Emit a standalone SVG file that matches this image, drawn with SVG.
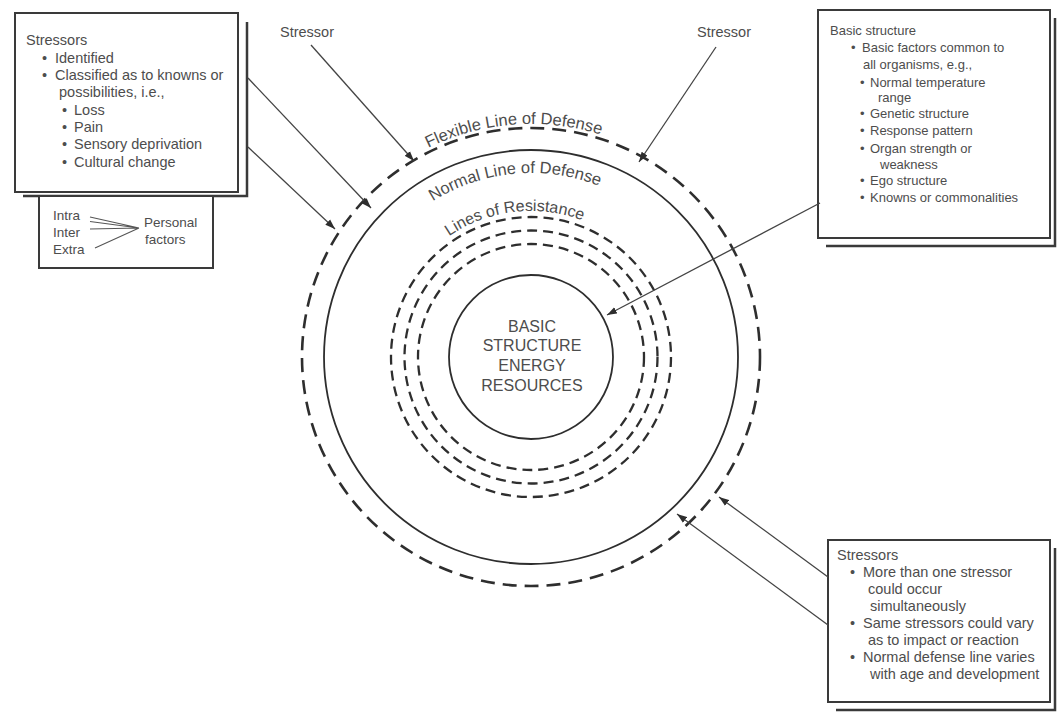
<svg xmlns="http://www.w3.org/2000/svg" width="1057" height="715" viewBox="0 0 1057 715">
<style>
.t{font-family:"Liberation Sans",Arial,sans-serif;fill:#4d4d4d;}
.box{fill:#fff;stroke:#3a3a3a;stroke-width:2;}
.sh{fill:none;stroke:#3a3a3a;stroke-width:2.5;}
.c{fill:none;stroke:#2e2e2e;}
.flex{stroke-width:2.6;stroke-dasharray:14 8;}
.res{stroke-width:2.3;stroke-dasharray:10 6;}
.sol{stroke-width:1.8;}
.arr{fill:none;stroke:#444;stroke-width:1.3;marker-end:url(#ah);}
.thin{fill:none;stroke:#555;stroke-width:1.1;}
.arc{font-size:16.5px;}
</style>
<defs>
<marker id="ah" markerWidth="11" markerHeight="8" refX="10" refY="4" orient="auto" markerUnits="userSpaceOnUse">
<path d="M0,0.5 L10,4 L0,7.5 Z" fill="#2e2e2e"/>
</marker>
<path id="pFlex" d="M298,357 A233,233 0 0 1 764,357"/>
<path id="pNorm" d="M347,357 A184,184 0 0 1 715,357"/>
<path id="pRes" d="M385,357 A146,146 0 0 1 677,357"/>
</defs>
<rect width="1057" height="715" fill="#fff"/>

<g id="circles">
<circle class="c flex" cx="531" cy="357" r="229"/>
<circle class="c sol" cx="531" cy="357" r="207"/>
<circle class="c res" cx="531" cy="357" r="140"/>
<circle class="c res" cx="531" cy="357" r="126.5"/>
<circle class="c res" cx="531" cy="357" r="113"/>
</g>

<g id="core">
<circle class="c sol" cx="531" cy="357" r="82"/>
<text class="t" font-size="16" text-anchor="middle"><tspan x="532" y="332">BASIC</tspan><tspan x="532" y="351">STRUCTURE</tspan><tspan x="532" y="371">ENERGY</tspan><tspan x="532" y="391">RESOURCES</tspan></text>
</g>

<g id="arc-labels">
<text class="t arc" text-anchor="middle"><textPath href="#pFlex" startOffset="348">Flexible Line of Defense</textPath></text>
<text class="t arc" text-anchor="middle"><textPath href="#pNorm" startOffset="272">Normal Line of Defense</textPath></text>
<text class="t" font-size="16" text-anchor="middle"><textPath href="#pRes" startOffset="212">Lines of Resistance</textPath></text>
</g>

<g id="stressor-left">
<text class="t" x="280" y="37" font-size="14.5">Stressor</text>
</g>
<g id="stressor-right">
<text class="t" x="697" y="37" font-size="14.5">Stressor</text>
</g>

<g id="box-stressors">
<polyline class="sh" points="247,22 247,196 23,196"/>
<rect class="box" x="15" y="13" width="223" height="179"/>
<text class="t" font-size="14.5">
<tspan x="26" y="45">Stressors</tspan>
<tspan x="42" y="63">•</tspan><tspan x="55" y="63">Identified</tspan>
<tspan x="42" y="80">•</tspan><tspan x="55" y="80">Classified as to knowns or</tspan>
<tspan x="59" y="97">possibilities, i.e.,</tspan>
<tspan x="62" y="115">•</tspan><tspan x="74" y="115">Loss</tspan>
<tspan x="62" y="132">•</tspan><tspan x="74" y="132">Pain</tspan>
<tspan x="62" y="149">•</tspan><tspan x="74" y="149">Sensory deprivation</tspan>
<tspan x="62" y="167">•</tspan><tspan x="74" y="167">Cultural change</tspan>
</text>
</g>

<g id="box-personal">
<rect class="box" x="39" y="196" width="174" height="72"/>
<text class="t" font-size="13.5">
<tspan x="53" y="220">Intra</tspan>
<tspan x="53" y="237">Inter</tspan>
<tspan x="53" y="254">Extra</tspan>
<tspan x="144" y="227">Personal</tspan>
<tspan x="145" y="244">factors</tspan>
</text>
<path class="thin" d="M90,217 L139,228 M90,221.5 L139,228 M90,229 L139,228 M95,248 L139,228"/>
</g>

<g id="box-basic">
<polyline class="sh" points="1055,18 1055,246 826,246"/>
<rect class="box" x="818" y="10" width="232" height="228"/>
<text class="t" font-size="13">
<tspan x="830" y="35">Basic structure</tspan>
<tspan x="851" y="52">•</tspan><tspan x="862" y="52">Basic factors common to</tspan>
<tspan x="863" y="69">all organisms, e.g.,</tspan>
<tspan x="860" y="87">•</tspan><tspan x="870" y="87">Normal temperature</tspan>
<tspan x="878" y="102">range</tspan>
<tspan x="860" y="118">•</tspan><tspan x="870" y="118">Genetic structure</tspan>
<tspan x="860" y="135">•</tspan><tspan x="870" y="135">Response pattern</tspan>
<tspan x="860" y="153">•</tspan><tspan x="870" y="153">Organ strength or</tspan>
<tspan x="880" y="169">weakness</tspan>
<tspan x="860" y="185">•</tspan><tspan x="870" y="185">Ego structure</tspan>
<tspan x="860" y="202">•</tspan><tspan x="870" y="202">Knowns or commonalities</tspan>
</text>
</g>

<g id="box-stressors-2">
<polyline class="sh" points="1055,548 1055,710 836,710"/>
<rect class="box" x="828" y="540" width="222" height="162"/>
<text class="t" font-size="14.5">
<tspan x="837" y="560">Stressors</tspan>
<tspan x="850" y="577">•</tspan><tspan x="863" y="577">More than one stressor</tspan>
<tspan x="868" y="594">could occur</tspan>
<tspan x="870" y="611">simultaneously</tspan>
<tspan x="850" y="628">•</tspan><tspan x="863" y="628">Same stressors could vary</tspan>
<tspan x="868" y="645">as to impact or reaction</tspan>
<tspan x="850" y="662">•</tspan><tspan x="863" y="662">Normal defense line varies</tspan>
<tspan x="870" y="679">with age and development</tspan>
</text>
</g>

<g id="connectors">
<line class="arr" x1="311" y1="45" x2="414" y2="161"/>
<line class="arr" x1="716" y1="47" x2="639" y2="162"/>
<line class="arr" x1="248" y1="78" x2="371" y2="208"/>
<line class="arr" x1="248" y1="147" x2="335" y2="229"/>
<line class="arr" x1="820" y1="203" x2="607" y2="315"/>
<line class="arr" x1="828" y1="577" x2="719" y2="497"/>
<line class="arr" x1="828" y1="625" x2="677" y2="514"/>
</g>
</svg>
